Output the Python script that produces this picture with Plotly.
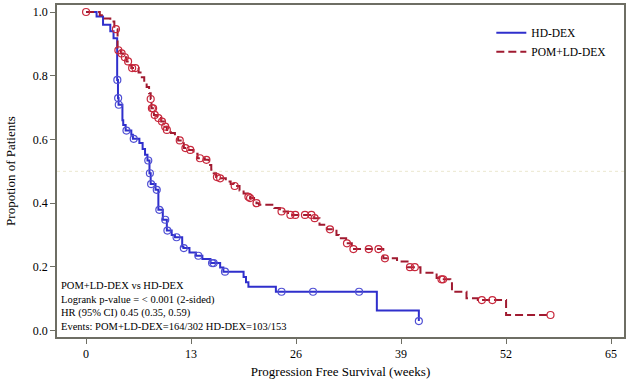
import numpy as np
import plotly.graph_objects as go

# ---- data ----
hd_time = [0, 1.3, 2.1, 3.0, 3.4, 3.85, 3.95, 4.02, 4.5, 4.6, 4.9, 5.6, 5.8, 6.6, 7.0, 7.3, 7.6,
           7.85, 8.0, 8.6, 8.95, 9.5, 10.0, 10.6, 11.0, 11.9, 12.05, 12.8, 13.6, 14.4, 15.4,
           16.6, 17.0, 19.5, 19.8, 20.1, 23.5, 36.0, 41.2]
hd_surv = [1.0, 0.986, 0.96, 0.94, 0.918, 0.787, 0.73, 0.709, 0.66, 0.645, 0.628, 0.615, 0.602,
           0.589, 0.57, 0.552, 0.534, 0.494, 0.46, 0.442, 0.379, 0.348, 0.314, 0.30, 0.293, 0.264,
           0.259, 0.245, 0.235, 0.225, 0.212, 0.198, 0.185, 0.168, 0.152, 0.138, 0.122, 0.063, 0.03]
hd_censor = [3.87, 3.97, 4.05, 5.0, 5.9, 7.7, 7.9, 8.05, 8.75, 9.07, 9.8, 10.07, 11.2, 12.1,
             13.9, 15.6, 15.8, 17.2, 24.2, 28.1, 33.8, 41.2]

pom_time = [0, 1.7, 2.3, 3.0, 3.5, 3.9, 4.3, 4.6, 5.0, 5.4, 5.6, 6.5, 6.9, 7.2, 7.5, 7.8, 8.0,
            8.1, 8.4, 8.8, 9.3, 9.7, 10.0, 10.5, 11.0, 11.4, 12.1, 12.6, 13.3, 13.8, 14.7, 15.2,
            15.5, 15.8, 16.1, 16.5, 17.3, 17.9, 18.3, 19.0, 19.5, 20.0, 20.3, 20.8, 21.1, 21.4,
            23.3, 24.0, 25.0, 28.2, 28.9, 29.8, 31.0, 31.3, 32.2, 32.9, 36.8, 38.5, 39.8, 41.4,
            43.4, 44.0, 45.1, 45.3, 47.1, 48.5, 52.0]
pom_surv = [1.0, 0.99, 0.98, 0.97, 0.946, 0.88, 0.87, 0.858, 0.845, 0.834, 0.824, 0.81, 0.795,
            0.78, 0.765, 0.745, 0.727, 0.698, 0.677, 0.667, 0.656, 0.64, 0.63, 0.62, 0.608, 0.597,
            0.573, 0.567, 0.555, 0.541, 0.536, 0.52, 0.505, 0.494, 0.482, 0.478, 0.468, 0.46,
            0.454, 0.44, 0.43, 0.42, 0.416, 0.405, 0.40, 0.395, 0.385, 0.374, 0.363, 0.353,
            0.332, 0.318, 0.30, 0.29, 0.274, 0.256, 0.227, 0.217, 0.199, 0.182, 0.165, 0.161,
            0.149, 0.122, 0.102, 0.096, 0.049]
pom_censor = [0.0, 3.7, 4.0, 4.4, 4.8, 5.2, 5.7, 6.1, 8.0, 8.15, 8.3, 8.5, 8.95, 9.4, 9.8,
              10.0, 11.6, 12.3, 12.9, 14.1, 14.9, 16.2, 16.6, 18.4, 20.1, 20.3, 21.1, 24.2,
              25.3, 25.9, 27.1, 27.9, 28.3, 30.2, 32.3, 33.1, 35.0, 36.2, 37.0, 40.1, 40.7,
              44.0, 44.2, 49.0, 50.3, 57.5]

x_ticks = [0, 13, 26, 39, 52, 65]
y_ticks = [0.0, 0.2, 0.4, 0.6, 0.8, 1.0]

stats_lines = ["POM+LD-DEX vs HD-DEX",
               "Logrank p-value = < 0.001 (2-sided)",
               "HR (95% CI) 0.45 (0.35, 0.59)",
               "Events: POM+LD-DEX=164/302 HD-DEX=103/153"]

BLUE = "#2f2fcc"
RED = "#a01a30"
RED_M = "#c8283c"
FONT = "Liberation Serif, Times New Roman, serif"


def step_value(times, survs, t):
    idx = np.searchsorted(np.array(times), t, side="right") - 1
    return np.array(survs)[idx]


fig = go.Figure()

# HD-DEX
hx = hd_time + [max(hd_censor)]
hy = hd_surv + [hd_surv[-1]]
fig.add_trace(go.Scatter(x=hx, y=hy, mode="lines", line=dict(color=BLUE, width=2, shape="hv"),
                         name="HD-DEX", legendrank=1))
fig.add_trace(go.Scatter(x=hd_censor, y=step_value(hd_time, hd_surv, hd_censor), mode="markers",
                         marker=dict(symbol="circle-open", size=7, color="#5050d4", line=dict(width=1.2)),
                         showlegend=False))

# POM+LD-DEX
px_ = pom_time + [max(pom_censor)]
py_ = pom_surv + [pom_surv[-1]]
fig.add_trace(go.Scatter(x=px_, y=py_, mode="lines",
                         line=dict(color=RED, width=2, shape="hv", dash="8px,4px"),
                         name="POM+LD-DEX", legendrank=2))
fig.add_trace(go.Scatter(x=pom_censor, y=step_value(pom_time, pom_surv, pom_censor), mode="markers",
                         marker=dict(symbol="circle-open", size=7, color=RED_M, line=dict(width=1.2)),
                         showlegend=False))

# reference line at 0.5
fig.add_hline(y=0.5, line=dict(color="#ebe7cf", width=1, dash="dot"), layer="below")

fig.add_annotation(text="<br>".join(stats_lines), xref="paper", yref="paper", x=0.003, y=0.177,
                   xanchor="left", yanchor="top", align="left", showarrow=False,
                   font=dict(family=FONT, size=10.5, color="#000"))

fig.update_layout(
    width=629, height=385,
    margin=dict(l=57, r=5, t=5, b=48, autoexpand=False),
    paper_bgcolor="white", plot_bgcolor="white",
    font=dict(family=FONT, size=12, color="#000"),
    showlegend=True,
    legend=dict(x=0.766, y=0.96, xanchor="left", yanchor="top", bgcolor="rgba(0,0,0,0)",
                font=dict(family=FONT, size=11.5), tracegroupgap=0, itemwidth=30),
    xaxis=dict(range=[-3.6, 66.6], tickvals=x_ticks, ticks="outside", ticklen=5,
               showgrid=False, zeroline=False, showline=True, linecolor="#6e6e64", linewidth=1.5,
               mirror=True, tickcolor="#6e6e64", automargin=False,
               title=dict(text="Progression Free Survival (weeks)", font=dict(family=FONT, size=13), standoff=7)),
    yaxis=dict(range=[-0.02, 1.022], tickvals=y_ticks, tickformat=".1f", ticks="outside", ticklen=5,
               showgrid=False, zeroline=False, showline=True, linecolor="#6e6e64", linewidth=1.5,
               mirror=True, tickcolor="#6e6e64", automargin=False,
               title=dict(text="Propotion of Patients", font=dict(family=FONT, size=13), standoff=14)),
)

fig.write_html("out.html", config={"displayModeBar": False},
               post_script="document.body.style.margin='0';")
